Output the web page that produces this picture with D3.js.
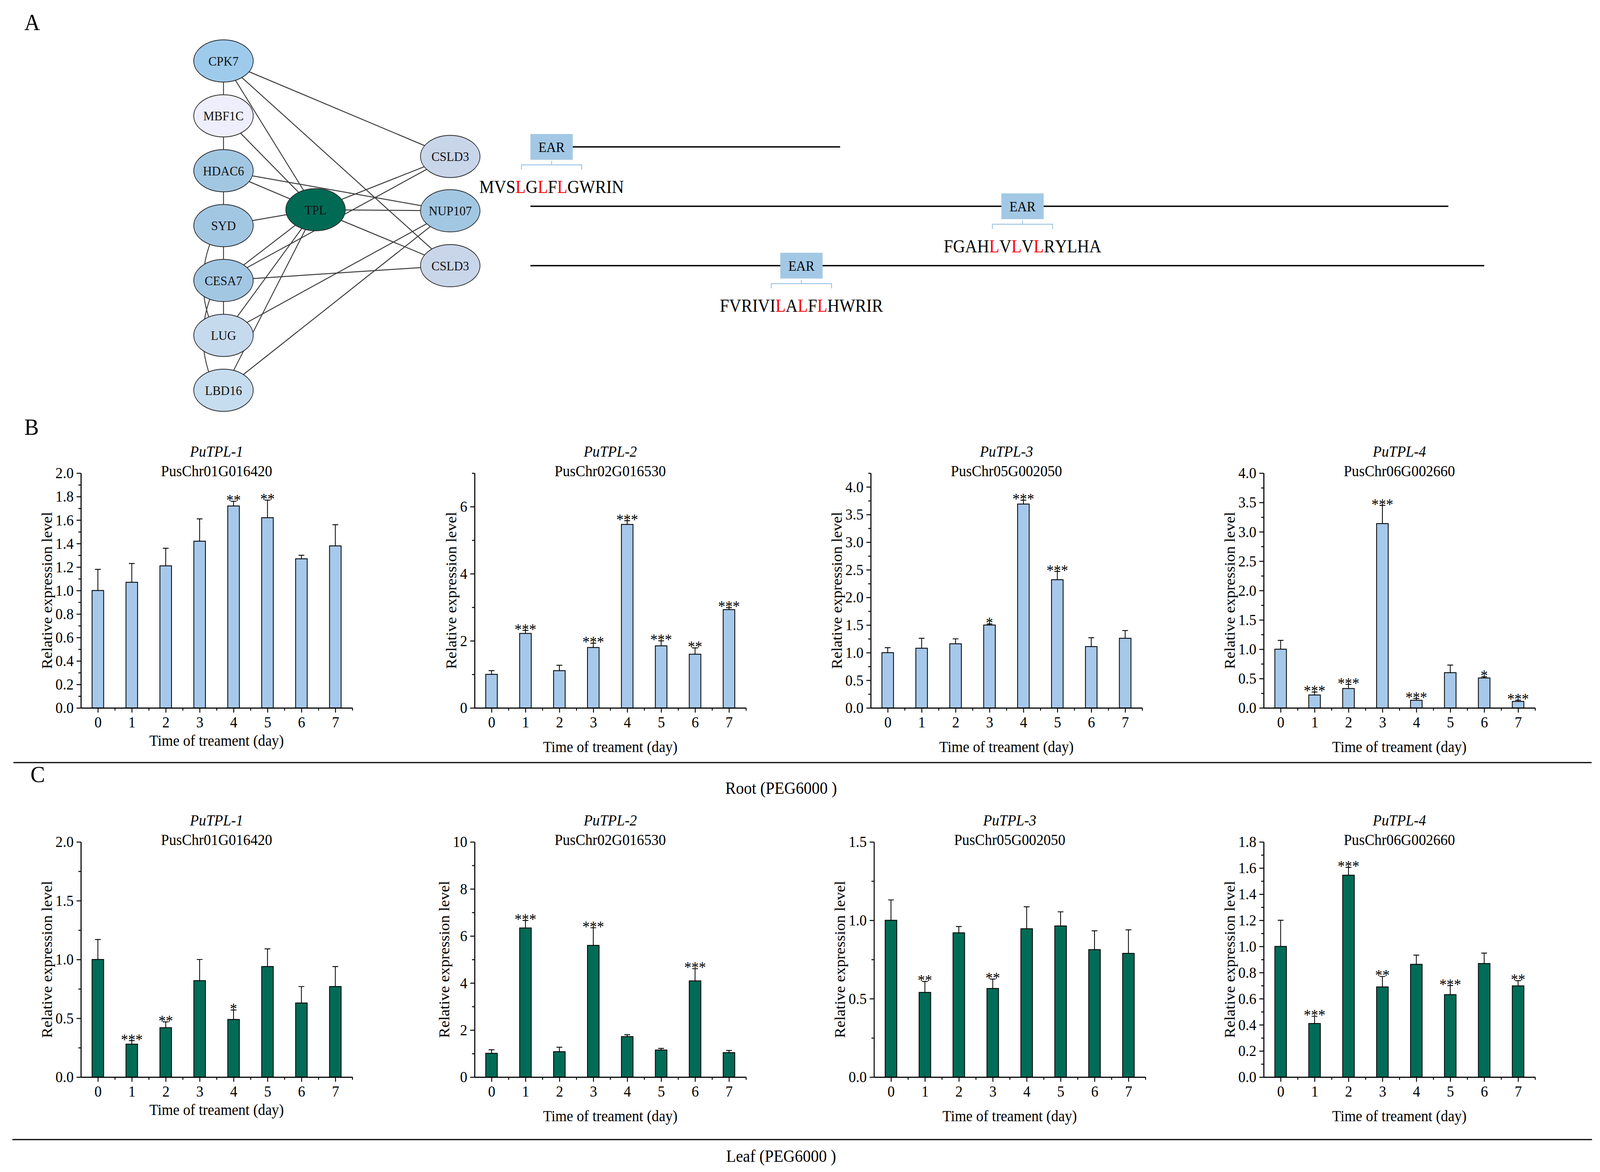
<!DOCTYPE html>
<html>
<head>
<meta charset="utf-8">
<script src="https://cdn.jsdelivr.net/npm/d3@7"></script>
<style>
  html, body { margin: 0; padding: 0; background: #fff; overflow: hidden; }
  #fig { display: block; width: 100vw; height: 100vh; }
  text { font-family: "Liberation Serif", "Times New Roman", serif; }
</style>
</head>
<body>
<svg id="fig" viewBox="0 0 4410 3000" preserveAspectRatio="none"></svg>
<script>
// ---------- data ----------
var days = ["0", "1", "2", "3", "4", "5", "6", "7"];
var genes = ["PuTPL-1", "PuTPL-2", "PuTPL-3", "PuTPL-4"];
var geneIds = ["PusChr01G016420", "PusChr02G016530", "PusChr05G002050", "PusChr06G002660"];

// root, PEG6000
var root1 = [1.00, 1.07, 1.21, 1.42, 1.72, 1.62, 1.27, 1.38];
var root1Sd = [0.18, 0.16, 0.15, 0.19, 0.04, 0.15, 0.03, 0.18];
var root1Sig = ["", "", "", "", "**", "**", "", ""];
var root2 = [1.00, 2.22, 1.11, 1.80, 5.47, 1.85, 1.60, 2.93];
var root2Sd = [0.11, 0.09, 0.16, 0.13, 0.11, 0.15, 0.19, 0.06];
var root2Sig = ["", "***", "", "***", "***", "***", "**", "***"];
var root3 = [1.00, 1.08, 1.16, 1.50, 3.69, 2.32, 1.11, 1.26];
var root3Sd = [0.09, 0.18, 0.09, 0.02, 0.07, 0.15, 0.16, 0.14];
var root3Sig = ["", "", "", "*", "***", "***", "", ""];
var root4 = [1.00, 0.22, 0.33, 3.14, 0.13, 0.60, 0.51, 0.11];
var root4Sd = [0.15, 0.05, 0.07, 0.31, 0.03, 0.13, 0.02, 0.02];
var root4Sig = ["", "***", "***", "***", "***", "", "*", "***"];

// leaf, PEG6000
var leaf1 = [1.00, 0.28, 0.42, 0.82, 0.49, 0.94, 0.63, 0.77];
var leaf1Sd = [0.17, 0.03, 0.05, 0.18, 0.08, 0.15, 0.14, 0.17];
var leaf1Sig = ["", "***", "**", "", "*", "", "", ""];
var leaf2 = [1.01, 6.34, 1.08, 5.60, 1.72, 1.15, 4.09, 1.04];
var leaf2Sd = [0.15, 0.32, 0.19, 0.75, 0.08, 0.07, 0.52, 0.09];
var leaf2Sig = ["", "***", "", "***", "", "", "***", ""];
var leaf3 = [1.00, 0.54, 0.92, 0.565, 0.946, 0.964, 0.813, 0.789];
var leaf3Sd = [0.13, 0.07, 0.04, 0.06, 0.14, 0.09, 0.12, 0.15];
var leaf3Sig = ["", "**", "", "**", "", "", "", ""];
var leaf4 = [1.00, 0.41, 1.545, 0.69, 0.863, 0.631, 0.869, 0.698];
var leaf4Sd = [0.20, 0.055, 0.06, 0.08, 0.07, 0.07, 0.08, 0.04];
var leaf4Sig = ["", "***", "***", "**", "", "***", "", "**"];

// y axis maximum and labelled step for each panel
var rootYMax = [2.0, 7, 4.25, 4.0];
var rootYStep = [0.2, 2, 0.5, 0.5];
var leafYMax = [2.0, 10, 1.5, 1.8];
var leafYStep = [0.5, 2, 0.5, 0.2];

// interaction network
var leftNodes = ["CPK7", "MBF1C", "HDAC6", "SYD", "CESA7", "LUG", "LBD16"];
var leftFill = ["#9ecbec", "#efeefc", "#a2c7e3", "#a2c7e3", "#a2c7e3", "#c6daee", "#c6dcef"];
var rightNodes = ["CSLD3", "NUP107", "CSLD3"];
var rightIds = ["CSLD3a", "NUP107", "CSLD3b"];
var rightFill = ["#c9d5e9", "#a2c7e3", "#c9d5e9"];
var rightRows = [1.74, 2.73, 3.73];
var edges = [
  ["CPK7", "MBF1C"], ["MBF1C", "HDAC6"], ["HDAC6", "SYD"], ["SYD", "CESA7"], ["CESA7", "LUG"],
  ["CPK7", "CSLD3a"], ["CPK7", "TPL"], ["CPK7", "CSLD3b"], ["MBF1C", "TPL"],
  ["HDAC6", "TPL"], ["HDAC6", "NUP107"], ["SYD", "TPL"], ["TPL", "CSLD3a"],
  ["CESA7", "CSLD3a"], ["TPL", "NUP107"], ["TPL", "CSLD3b"], ["CESA7", "TPL"],
  ["CESA7", "CSLD3b"], ["LUG", "TPL"], ["TPL", "LBD16"], ["LUG", "NUP107"],
  ["LBD16", "NUP107"]
];
var curvedEdges = [["SYD", "LUG"], ["CESA7", "LBD16"]];

// EAR motif diagram
var proteinLen = [388, 1150, 1195];
var earStart = [0, 590, 313];
var earLen = 53;
var earSeqs = ["MVSLGLFLGWRIN", "FGAHLVLVLRYLHA", "FVRIVILALFLHWRIR"];
var earRed = [[3, 5, 7], [4, 6, 8], [6, 8, 10]];

// ---------- layout ----------
var svg = d3.select("#fig");
var blue = "#a6c8ea", green = "#006b56";
var plotW = 748;
var rowB = {top: 1211, bottom: 1812, lefts: [223, 1308, 2400, 3483]};
var rowC = {top: 2155, bottom: 2757, lefts: [223, 1308, 2409, 3483]};

// panel letters
svg.append("text").attr("x", 67).attr("y", 77).attr("font-size", 60).text("A");
svg.append("text").attr("x", 67).attr("y", 1113).attr("font-size", 60).text("B");
svg.append("text").attr("x", 84).attr("y", 2002).attr("font-size", 60).text("C");

// ---------- network ----------
var rowY = d3.scaleLinear().domain([0, 6]).range([156, 999]);
var colX = d3.scaleLinear().domain([0, 1]).range([616, 1241]);
var nodes = [];
leftNodes.forEach(function(n, i){ nodes.push({id: n, label: n, x: colX(0), y: rowY(i), fill: leftFill[i]}); });
rightNodes.forEach(function(n, i){ nodes.push({id: rightIds[i], label: n, x: colX(1), y: rowY(rightRows[i]), fill: rightFill[i]}); });
nodes.push({id: "TPL", label: "TPL", x: colX(0.406), y: rowY(2.71), fill: "#006a55"});
var byId = {};
nodes.forEach(function(n){ byId[n.id] = n; });

var net = svg.append("g");
net.selectAll(".edge").data(edges).enter().append("line")
  .attr("x1", function(d){ return byId[d[0]].x; })
  .attr("y1", function(d){ return byId[d[0]].y; })
  .attr("x2", function(d){ return byId[d[1]].x; })
  .attr("y2", function(d){ return byId[d[1]].y; })
  .style("stroke", "#3c3c3c").style("stroke-width", 2.5);

net.selectAll(".curve").data(curvedEdges).enter().append("path")
  .attr("d", function(d){
    var a = byId[d[0]], b = byId[d[1]];
    var p = d3.path();
    p.moveTo(a.x - 15, a.y);
    p.quadraticCurveTo((a.x + b.x) / 2 - 95, (a.y + b.y) / 2, b.x - 20, b.y);
    return p.toString();
  })
  .style("fill", "none").style("stroke", "#3c3c3c").style("stroke-width", 2.5);

var nodeG = net.selectAll(".node").data(nodes).enter().append("g")
  .attr("transform", function(d){ return "translate(" + d.x + "," + d.y + ")"; });
nodeG.append("ellipse")
  .attr("rx", 82).attr("ry", 54)
  .style("fill", function(d){ return d.fill; })
  .style("stroke", "#2a2a2a").style("stroke-width", 2);
nodeG.append("text")
  .text(function(d){ return d.label; })
  .attr("text-anchor", "middle").attr("dy", "0.35em")
  .attr("font-size", 34).style("fill", "#111");

// ---------- EAR motifs ----------
var aa = d3.scaleLinear().domain([0, 1195]).range([1462, 4091]);
var lineY = d3.scaleLinear().domain([0, 2]).range([376, 680]);
var ear = svg.append("g");
var prot = ear.selectAll(".prot").data(proteinLen).enter().append("g");
prot.append("line")
  .attr("x1", function(d, i){ return aa(earStart[i] === 0 ? earLen : 0); })
  .attr("x2", function(d){ return aa(d); })
  .attr("y1", function(d, i){ return lineY(i); })
  .attr("y2", function(d, i){ return lineY(i); })
  .style("stroke", "#000").style("stroke-width", 3.5);
prot.append("rect")
  .attr("x", function(d, i){ return aa(earStart[i]); })
  .attr("y", function(d, i){ return lineY(i) - 33; })
  .attr("width", aa(earLen) - aa(0))
  .attr("height", 66)
  .style("fill", "#a3c8e5");
prot.append("text")
  .attr("x", function(d, i){ return aa(earStart[i] + earLen / 2); })
  .attr("y", function(d, i){ return lineY(i); })
  .attr("dy", "0.35em").attr("text-anchor", "middle").attr("font-size", 36)
  .text("EAR");
prot.append("path")
  .attr("d", function(d, i){
    var cx = aa(earStart[i] + earLen / 2), y0 = lineY(i) + 36, yb = y0 + 10, half = 83;
    return "M" + cx + "," + y0 + "V" + yb + "M" + (cx - half) + "," + (yb + 12) + "V" + yb + "H" + (cx + half) + "V" + (yb + 12);
  })
  .style("fill", "none").style("stroke", "#9fc6e4").style("stroke-width", 2.5);
var seqText = prot.append("text")
  .attr("x", function(d, i){ return aa(earStart[i] + earLen / 2); })
  .attr("y", function(d, i){ return lineY(i) + 118; })
  .attr("text-anchor", "middle").attr("font-size", 46);
seqText.each(function(d, i){
  var t = d3.select(this);
  earSeqs[i].split("").forEach(function(ch, k){
    t.append("tspan").text(ch)
      .style("fill", earRed[i].indexOf(k) >= 0 ? "#ff0000" : "#000");
  });
});

// ---------- bar charts ----------
function barChart(opt) {
  var g = svg.append("g");
  var x = d3.scaleLinear().domain([0, days.length]).range([opt.left, opt.left + plotW]);
  var y = d3.scaleLinear().domain([0, opt.yMax]).range([opt.bottom, opt.top]);
  var bw = 32, cap = 16;
  var rows = days.map(function(d, i){
    return {day: d, i: i, mean: opt.mean[i], sd: opt.sd[i], sig: opt.sig[i]};
  });

  // error bars (upper half only)
  g.selectAll(".err").data(rows).enter().append("path")
    .attr("d", function(d){
      var cx = x(d.i + 0.5), t = y(d.mean + d.sd);
      return "M" + cx + "," + y(d.mean) + "V" + t + "M" + (cx - cap / 2) + "," + t + "H" + (cx + cap / 2);
    })
    .style("fill", "none").style("stroke", "#000").style("stroke-width", 2.2);

  g.selectAll(".bar").data(rows).enter().append("rect")
    .attr("x", function(d){ return x(d.i + 0.5) - bw / 2; })
    .attr("y", function(d){ return y(d.mean); })
    .attr("width", bw)
    .attr("height", function(d){ return y(0) - y(d.mean); })
    .style("fill", opt.fill).style("stroke", "#000").style("stroke-width", 2.2);

  g.selectAll(".sig").data(rows).enter().append("text")
    .attr("x", function(d){ return x(d.i + 0.5); })
    .attr("y", function(d){ return y(d.mean + d.sd) + 10; })
    .attr("text-anchor", "middle").attr("font-size", 40)
    .text(function(d){ return d.sig; });

  // y axis
  var nMaj = Math.floor(opt.yMax / opt.step + 1e-6);
  var major = d3.range(0, nMaj + 1).map(function(k){ return +(k * opt.step).toFixed(4); });
  var nMin = Math.floor(opt.yMax / (opt.step / 2) + 1e-6);
  var minor = d3.range(1, nMin + 1, 2).map(function(k){ return +(k * opt.step / 2).toFixed(4); });
  var fmt = opt.step < 1 ? d3.format(".1f") : d3.format("d");

  g.append("g").attr("transform", "translate(" + opt.left + ",0)")
    .call(d3.axisLeft(y).tickValues(minor).tickSize(7).tickSizeOuter(0).tickFormat(""));
  var yAx = g.append("g").attr("transform", "translate(" + opt.left + ",0)")
    .call(d3.axisLeft(y).tickValues(major).tickSize(12).tickSizeOuter(0).tickPadding(8).tickFormat(fmt));
  yAx.attr("font-family", null).attr("font-size", 40);

  // x axis
  g.append("g").attr("transform", "translate(0," + opt.bottom + ")")
    .call(d3.axisBottom(x).tickValues(d3.range(1, days.length + 1)).tickSize(7).tickSizeOuter(0).tickFormat(""));
  var xAx = g.append("g").attr("transform", "translate(0," + opt.bottom + ")")
    .call(d3.axisBottom(x).tickValues(days.map(function(d, i){ return i + 0.5; }))
      .tickSize(12).tickSizeOuter(0).tickPadding(10)
      .tickFormat(function(v){ return days[Math.floor(v)]; }));
  xAx.attr("font-family", null).attr("font-size", 40);

  g.selectAll(".domain, .tick line").style("stroke", "#000").style("stroke-width", 2.5);
  g.selectAll(".tick text").style("fill", "#000");

  // titles
  var cx = opt.left + plotW / 2;
  g.append("text").attr("x", cx).attr("y", opt.top - 42).attr("text-anchor", "middle")
    .attr("font-size", 40).style("font-style", "italic").text(opt.gene);
  g.append("text").attr("x", cx).attr("y", opt.top + 8).attr("text-anchor", "middle")
    .attr("font-size", 40).text(opt.geneId);

  // axis labels
  g.append("text").attr("x", cx).attr("y", opt.bottom + (opt.col === 0 ? 97 : 113))
    .attr("text-anchor", "middle").attr("font-size", 40).text("Time of treament (day)");
  var bb = yAx.node().getBBox();
  var ly = (opt.top + opt.bottom) / 2;
  var lx = opt.left + bb.x - 24;
  g.append("text").attr("transform", "translate(" + lx + "," + ly + ") rotate(-90)")
    .attr("text-anchor", "middle").attr("dy", "0.35em").attr("font-size", 40)
    .text("Relative expression level");
}

var rootMeans = [root1, root2, root3, root4];
var rootSds = [root1Sd, root2Sd, root3Sd, root4Sd];
var rootSigs = [root1Sig, root2Sig, root3Sig, root4Sig];
var leafMeans = [leaf1, leaf2, leaf3, leaf4];
var leafSds = [leaf1Sd, leaf2Sd, leaf3Sd, leaf4Sd];
var leafSigs = [leaf1Sig, leaf2Sig, leaf3Sig, leaf4Sig];

genes.forEach(function(gname, k){
  barChart({col: k, left: rowB.lefts[k], top: rowB.top, bottom: rowB.bottom,
    yMax: rootYMax[k], step: rootYStep[k], mean: rootMeans[k], sd: rootSds[k], sig: rootSigs[k],
    fill: blue, gene: gname, geneId: geneIds[k]});
  barChart({col: k, left: rowC.lefts[k], top: rowC.top, bottom: rowC.bottom,
    yMax: leafYMax[k], step: leafYStep[k], mean: leafMeans[k], sd: leafSds[k], sig: leafSigs[k],
    fill: green, gene: gname, geneId: geneIds[k]});
});

// section rules and captions
svg.append("line").attr("x1", 37).attr("x2", 4387).attr("y1", 1952).attr("y2", 1952)
  .style("stroke", "#000").style("stroke-width", 3);
svg.append("line").attr("x1", 34).attr("x2", 4388).attr("y1", 2917).attr("y2", 2917)
  .style("stroke", "#000").style("stroke-width", 3);
svg.append("text").attr("x", 2153).attr("y", 2032).attr("text-anchor", "middle")
  .attr("font-size", 44).text("Root (PEG6000 )");
svg.append("text").attr("x", 2153).attr("y", 2974).attr("text-anchor", "middle")
  .attr("font-size", 44).text("Leaf (PEG6000 )");
</script>
</body>
</html>
